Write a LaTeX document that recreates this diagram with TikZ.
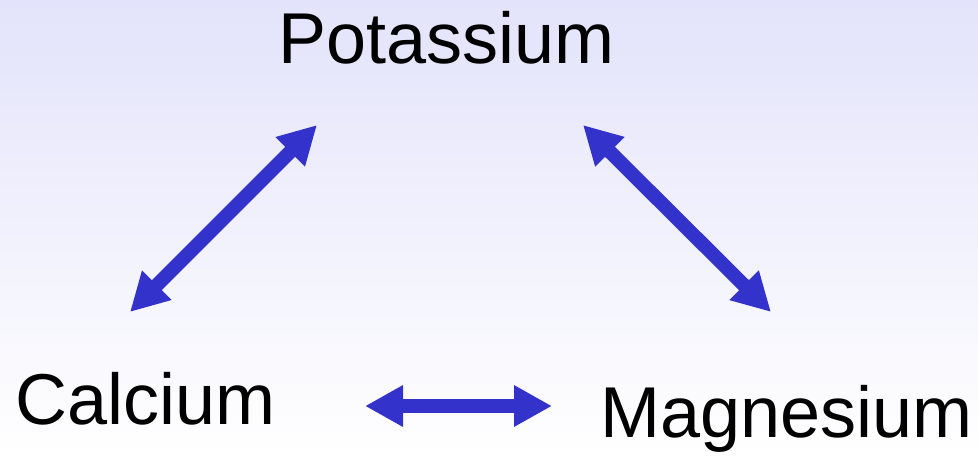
\documentclass[tikz,border=0pt]{standalone}
\usepackage{fontspec}
\setmainfont{Liberation Sans}
\definecolor{bgTop}{HTML}{E3E3FB}
\definecolor{linkBlue}{HTML}{3333CC}
\usetikzlibrary{arrows.meta, positioning, calc}

\begin{document}
\begin{tikzpicture}[x=1pt, y=-1pt,
  elem/.style={anchor=base west, inner sep=0pt, font=\fontsize{72}{86}\selectfont},
  link/.style={draw=linkBlue, line width=14pt,
    {Triangle[length=38pt, width=39pt]}-{Triangle[length=38pt, width=39pt]}}]

  % background
  \shade[top color=bgTop, bottom color=white] (0,0) rectangle (978,456);
  \useasboundingbox (0,0) rectangle (978,456);

  % elements
  \node[elem] (k) at (278,63) {Potassium};
  \node[elem] (ca) at (15,424) {Calcium};
  \node[elem] (mg) at (600,437) {Magnesium};

  % arrow ends
  \coordinate (k-ca) at (317,125);
  \coordinate (ca-k) at (130,312);
  \coordinate (k-mg) at (583,125);
  \coordinate (mg-k) at (771,312);
  \coordinate (ca-mg) at (365,406);
  \coordinate (mg-ca) at (552,406);

  \draw[link] (ca-k) -- (k-ca);
  \draw[link] (k-mg) -- (mg-k);
  \draw[link] (ca-mg) -- (mg-ca);
\end{tikzpicture}
\end{document}
